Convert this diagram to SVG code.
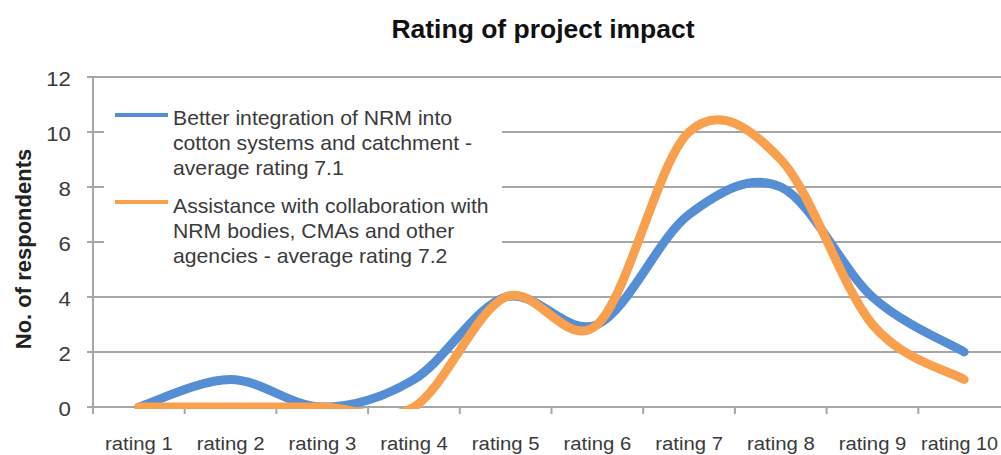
<svg xmlns="http://www.w3.org/2000/svg" width="1001" height="455" viewBox="0 0 1001 455">
  <defs>
    <style>
      .grid { stroke: #A6A6A6; stroke-width: 2; fill: none; }
      .axis { stroke: #A6A6A6; stroke-width: 2; fill: none; }
      .txt { font-family: "Liberation Sans", Arial, sans-serif; fill: #3a3a3a; }
      .tick { font-size: 21px; text-anchor: end; }
      .cat { font-size: 19px; text-anchor: middle; }
      .leg { font-size: 20px; }
      .title { font-size: 25px; font-weight: bold; text-anchor: middle; fill: #111; }
      .ylab { font-size: 22px; font-weight: bold; text-anchor: middle; fill: #222; }
      .series { fill: none; stroke-width: 9; stroke-linecap: round; stroke-linejoin: round; }
      .blue { stroke: #558ED5; }
      .orange { stroke: #F9A04E; }
    </style>
    <clipPath id="plot">
      <rect x="93" y="60" width="920" height="349"/>
    </clipPath>
  </defs>
  <rect width="1001" height="455" fill="#fff"/>

  <g id="title">
    <text class="txt title" transform="translate(543,38) scale(1.06,1)">Rating of project impact</text>
  </g>

  <g id="gridlines">
    <line class="grid" x1="87" y1="77" x2="1001" y2="77"/>
    <line class="grid" x1="87" y1="132" x2="1001" y2="132"/>
    <line class="grid" x1="87" y1="187" x2="1001" y2="187"/>
    <line class="grid" x1="87" y1="242" x2="1001" y2="242"/>
    <line class="grid" x1="87" y1="297" x2="1001" y2="297"/>
    <line class="grid" x1="87" y1="352" x2="1001" y2="352"/>
  </g>

  <g id="axes">
    <line class="axis" x1="93" y1="76" x2="93" y2="408"/>
    <line class="axis" x1="87" y1="407" x2="1001" y2="407"/>
    <line class="axis" x1="93" y1="407" x2="93" y2="414"/>
    <line class="axis" x1="184.7" y1="407" x2="184.7" y2="414"/>
    <line class="axis" x1="276.4" y1="407" x2="276.4" y2="414"/>
    <line class="axis" x1="368.1" y1="407" x2="368.1" y2="414"/>
    <line class="axis" x1="459.8" y1="407" x2="459.8" y2="414"/>
    <line class="axis" x1="551.5" y1="407" x2="551.5" y2="414"/>
    <line class="axis" x1="643.2" y1="407" x2="643.2" y2="414"/>
    <line class="axis" x1="734.9" y1="407" x2="734.9" y2="414"/>
    <line class="axis" x1="826.6" y1="407" x2="826.6" y2="414"/>
    <line class="axis" x1="918.3" y1="407" x2="918.3" y2="414"/>
  </g>

  <g id="y-ticks">
    <text class="txt tick" transform="translate(71,86) scale(1.06,1)">12</text>
    <text class="txt tick" transform="translate(71,141) scale(1.06,1)">10</text>
    <text class="txt tick" transform="translate(71,196) scale(1.06,1)">8</text>
    <text class="txt tick" transform="translate(71,251) scale(1.06,1)">6</text>
    <text class="txt tick" transform="translate(71,306) scale(1.06,1)">4</text>
    <text class="txt tick" transform="translate(71,361) scale(1.06,1)">2</text>
    <text class="txt tick" transform="translate(71,416) scale(1.06,1)">0</text>
  </g>

  <g id="y-label">
    <text class="txt ylab" transform="translate(31,249) rotate(-90)">No. of respondents</text>
  </g>

  <g id="x-labels">
    <text class="txt cat" transform="translate(138.9,450) scale(1.07,1)">rating 1</text>
    <text class="txt cat" transform="translate(230.6,450) scale(1.07,1)">rating 2</text>
    <text class="txt cat" transform="translate(322.3,450) scale(1.07,1)">rating 3</text>
    <text class="txt cat" transform="translate(414,450) scale(1.07,1)">rating 4</text>
    <text class="txt cat" transform="translate(505.7,450) scale(1.07,1)">rating 5</text>
    <text class="txt cat" transform="translate(597.4,450) scale(1.07,1)">rating 6</text>
    <text class="txt cat" transform="translate(689.1,450) scale(1.07,1)">rating 7</text>
    <text class="txt cat" transform="translate(780.8,450) scale(1.07,1)">rating 8</text>
    <text class="txt cat" transform="translate(872.5,450) scale(1.07,1)">rating 9</text>
    <text class="txt cat" transform="translate(959.5,450) scale(1.04,1)">rating 10</text>
  </g>

  <g id="legend">
    <rect x="104" y="88" width="398" height="185" fill="#fff"/>
    <line class="blue" x1="115" y1="115" x2="168" y2="115" stroke-width="4"/>
    <line class="orange" x1="115" y1="202" x2="168" y2="202" stroke-width="4"/>
    <text class="txt leg" transform="translate(173,125) scale(1.06,1)">Better integration of NRM into</text>
    <text class="txt leg" transform="translate(173,150) scale(1.06,1)">cotton systems and catchment -</text>
    <text class="txt leg" transform="translate(173,175) scale(1.06,1)">average rating 7.1</text>
    <text class="txt leg" transform="translate(173,213) scale(1.06,1)">Assistance with collaboration with</text>
    <text class="txt leg" transform="translate(173,238) scale(1.06,1)">NRM bodies, CMAs and other</text>
    <text class="txt leg" transform="translate(173,263) scale(1.06,1)">agencies - average rating 7.2</text>
  </g>

  <g id="series" clip-path="url(#plot)">
    <path id="series-blue" class="series blue" d="M138.85,407 C154.13,402.42 199.98,379.5 230.55,379.5 C261.12,379.5 291.68,407 322.25,407 C352.82,407 383.38,397.83 413.95,379.5 C444.52,361.17 475.08,306.17 505.65,297 C536.22,287.83 566.78,338.25 597.35,324.5 C627.92,310.75 658.48,237.42 689.05,214.5 C719.62,191.58 750.18,173.25 780.75,187 C811.32,200.75 841.88,269.5 872.45,297 C903.02,324.5 948.87,342.83 964.15,352"/>
    <path id="series-orange" class="series orange" d="M138.85,407 C154.13,407 199.98,407 230.55,407 C261.12,407 291.68,407 322.25,407 C352.82,407 383.38,425.33 413.95,407 C444.52,388.67 475.08,310.75 505.65,297 C536.22,283.25 566.78,352 597.35,324.5 C627.92,297 658.48,159.5 689.05,132 C719.62,104.5 750.18,127.42 780.75,159.5 C811.32,191.58 841.88,287.83 872.45,324.5 C903.02,361.17 948.87,370.33 964.15,379.5"/>
  </g>
</svg>
